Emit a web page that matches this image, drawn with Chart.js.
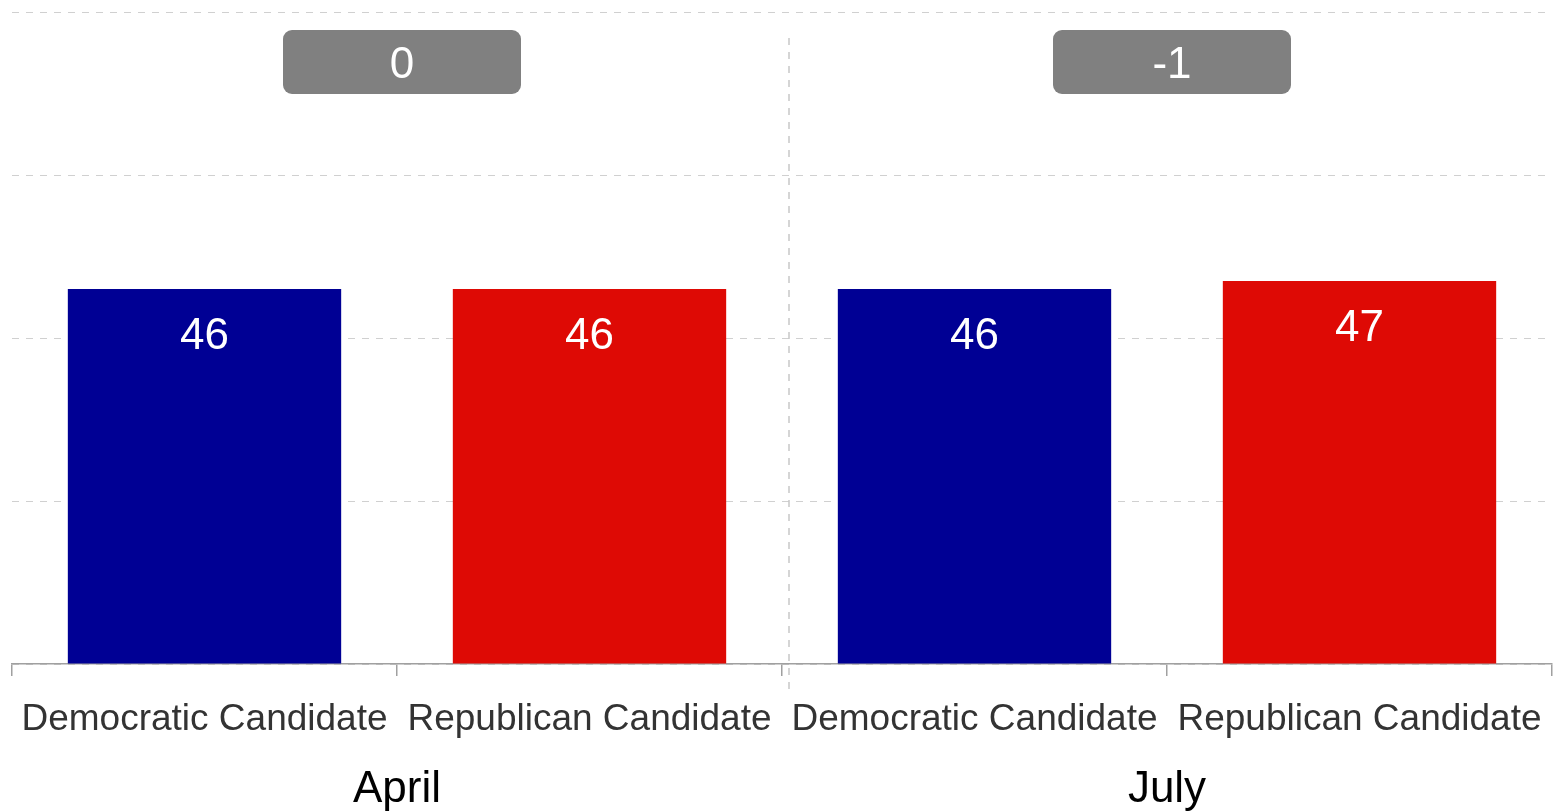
<!DOCTYPE html>
<html>
<head>
<meta charset="utf-8">
<script src="https://cdn.jsdelivr.net/npm/chart.js@4/dist/chart.umd.min.js"></script>
<style>
  html,body{margin:0;padding:0;background:#fff;overflow:hidden;}
  #chart{display:block;}
</style>
</head>
<body>
<canvas id="chart" width="1553" height="811"></canvas>
<script>
const categories = ['Democratic Candidate','Republican Candidate','Democratic Candidate','Republican Candidate'];
const groups = ['April','July'];
const support = [46,46,46,47];
const gaps = ['0','-1'];
const yTicks = [0,20,40,60,80];

const FONT = "'Liberation Sans', Arial, sans-serif";
const colors = ['#000094','#DE0A05','#000094','#DE0A05'];

// white numbers inside the bars
const valueLabels = {
  id:'valueLabels',
  afterDatasetsDraw(chart){
    const ctx = chart.ctx;
    const meta = chart.getDatasetMeta(0);
    ctx.save();
    ctx.fillStyle = '#fff';
    ctx.font = '44px '+FONT;
    ctx.textAlign = 'center';
    ctx.textBaseline = 'middle';
    meta.data.forEach((bar,i)=>{
      ctx.fillText(String(support[i]), bar.x, bar.y+48);
    });
    ctx.restore();
  }
};

// grey gap boxes + dashed separator between the groups
const groupDeco = {
  id:'groupDeco',
  beforeDatasetsDraw(chart){
    const ctx = chart.ctx;
    const meta = chart.getDatasetMeta(0);
    const area = chart.chartArea;
    ctx.save();
    ctx.strokeStyle = '#c8c8c8';
    ctx.lineWidth = 1.5;
    ctx.setLineDash([7,7]);
    for(let g=1; g<groups.length; g++){
      const x = (meta.data[2*g-1].x + meta.data[2*g].x)/2 + 7;
      ctx.beginPath();
      ctx.moveTo(x, area.top+26);
      ctx.lineTo(x, area.bottom+26);
      ctx.stroke();
    }
    ctx.restore();
  },
  afterDatasetsDraw(chart){
    const ctx = chart.ctx;
    const meta = chart.getDatasetMeta(0);
    const area = chart.chartArea;
    ctx.save();
    gaps.forEach((txt,g)=>{
      const cx = (meta.data[2*g].x + meta.data[2*g+1].x)/2 + 5;
      const w = 238, h = 64, top = area.top+18;
      ctx.fillStyle = '#808080';
      ctx.beginPath();
      ctx.roundRect(cx-w/2, top, w, h, 9);
      ctx.fill();
      ctx.fillStyle = '#fff';
      ctx.font = '44px '+FONT;
      ctx.textAlign = 'center';
      ctx.textBaseline = 'middle';
      ctx.fillText(txt, cx, top+h/2+4);
    });
    ctx.restore();
  }
};

function fixX(h){
  return s => { s.height = h; s.paddingLeft = 0; s.paddingRight = 0; };
}

new Chart(document.getElementById('chart'),{
  type:'bar',
  data:{
    labels:categories,
    datasets:[{ data:support, backgroundColor:colors, barPercentage:0.71, categoryPercentage:1 }]
  },
  options:{
    responsive:false,
    animation:false,
    layout:{ padding:{ left:12, right:1, top:12, bottom:0 } },
    plugins:{ legend:{display:false}, tooltip:{enabled:false} },
    scales:{
      x:{
        offset:true,
        afterFit:fixX(77),
        grid:{ offset:true, drawOnChartArea:false, drawTicks:true, tickLength:12, color:'#a0a0a0', lineWidth:1.5 },
        border:{ color:'#a0a0a0', width:1.5 },
        ticks:{ font:{ size:37, family:FONT }, color:'#333', padding:22, maxRotation:0, autoSkip:false }
      },
      x2:{
        type:'category',
        labels:groups,
        position:'bottom',
        offset:true,
        afterFit:fixX(70),
        grid:{ display:false },
        border:{ display:false },
        ticks:{ font:{ size:44, family:FONT }, color:'#000', padding:14, maxRotation:0 }
      },
      y:{
        min:yTicks[0], max:yTicks[yTicks.length-1],
        afterBuildTicks(s){ s.ticks = yTicks.map(v=>({value:v})); },
        ticks:{ display:false },
        grid:{ color:'#d0d0d0', lineWidth:1, drawTicks:false },
        border:{ display:false, dash:[7,7] }
      }
    }
  },
  plugins:[valueLabels, groupDeco]
});
</script>
</body>
</html>
